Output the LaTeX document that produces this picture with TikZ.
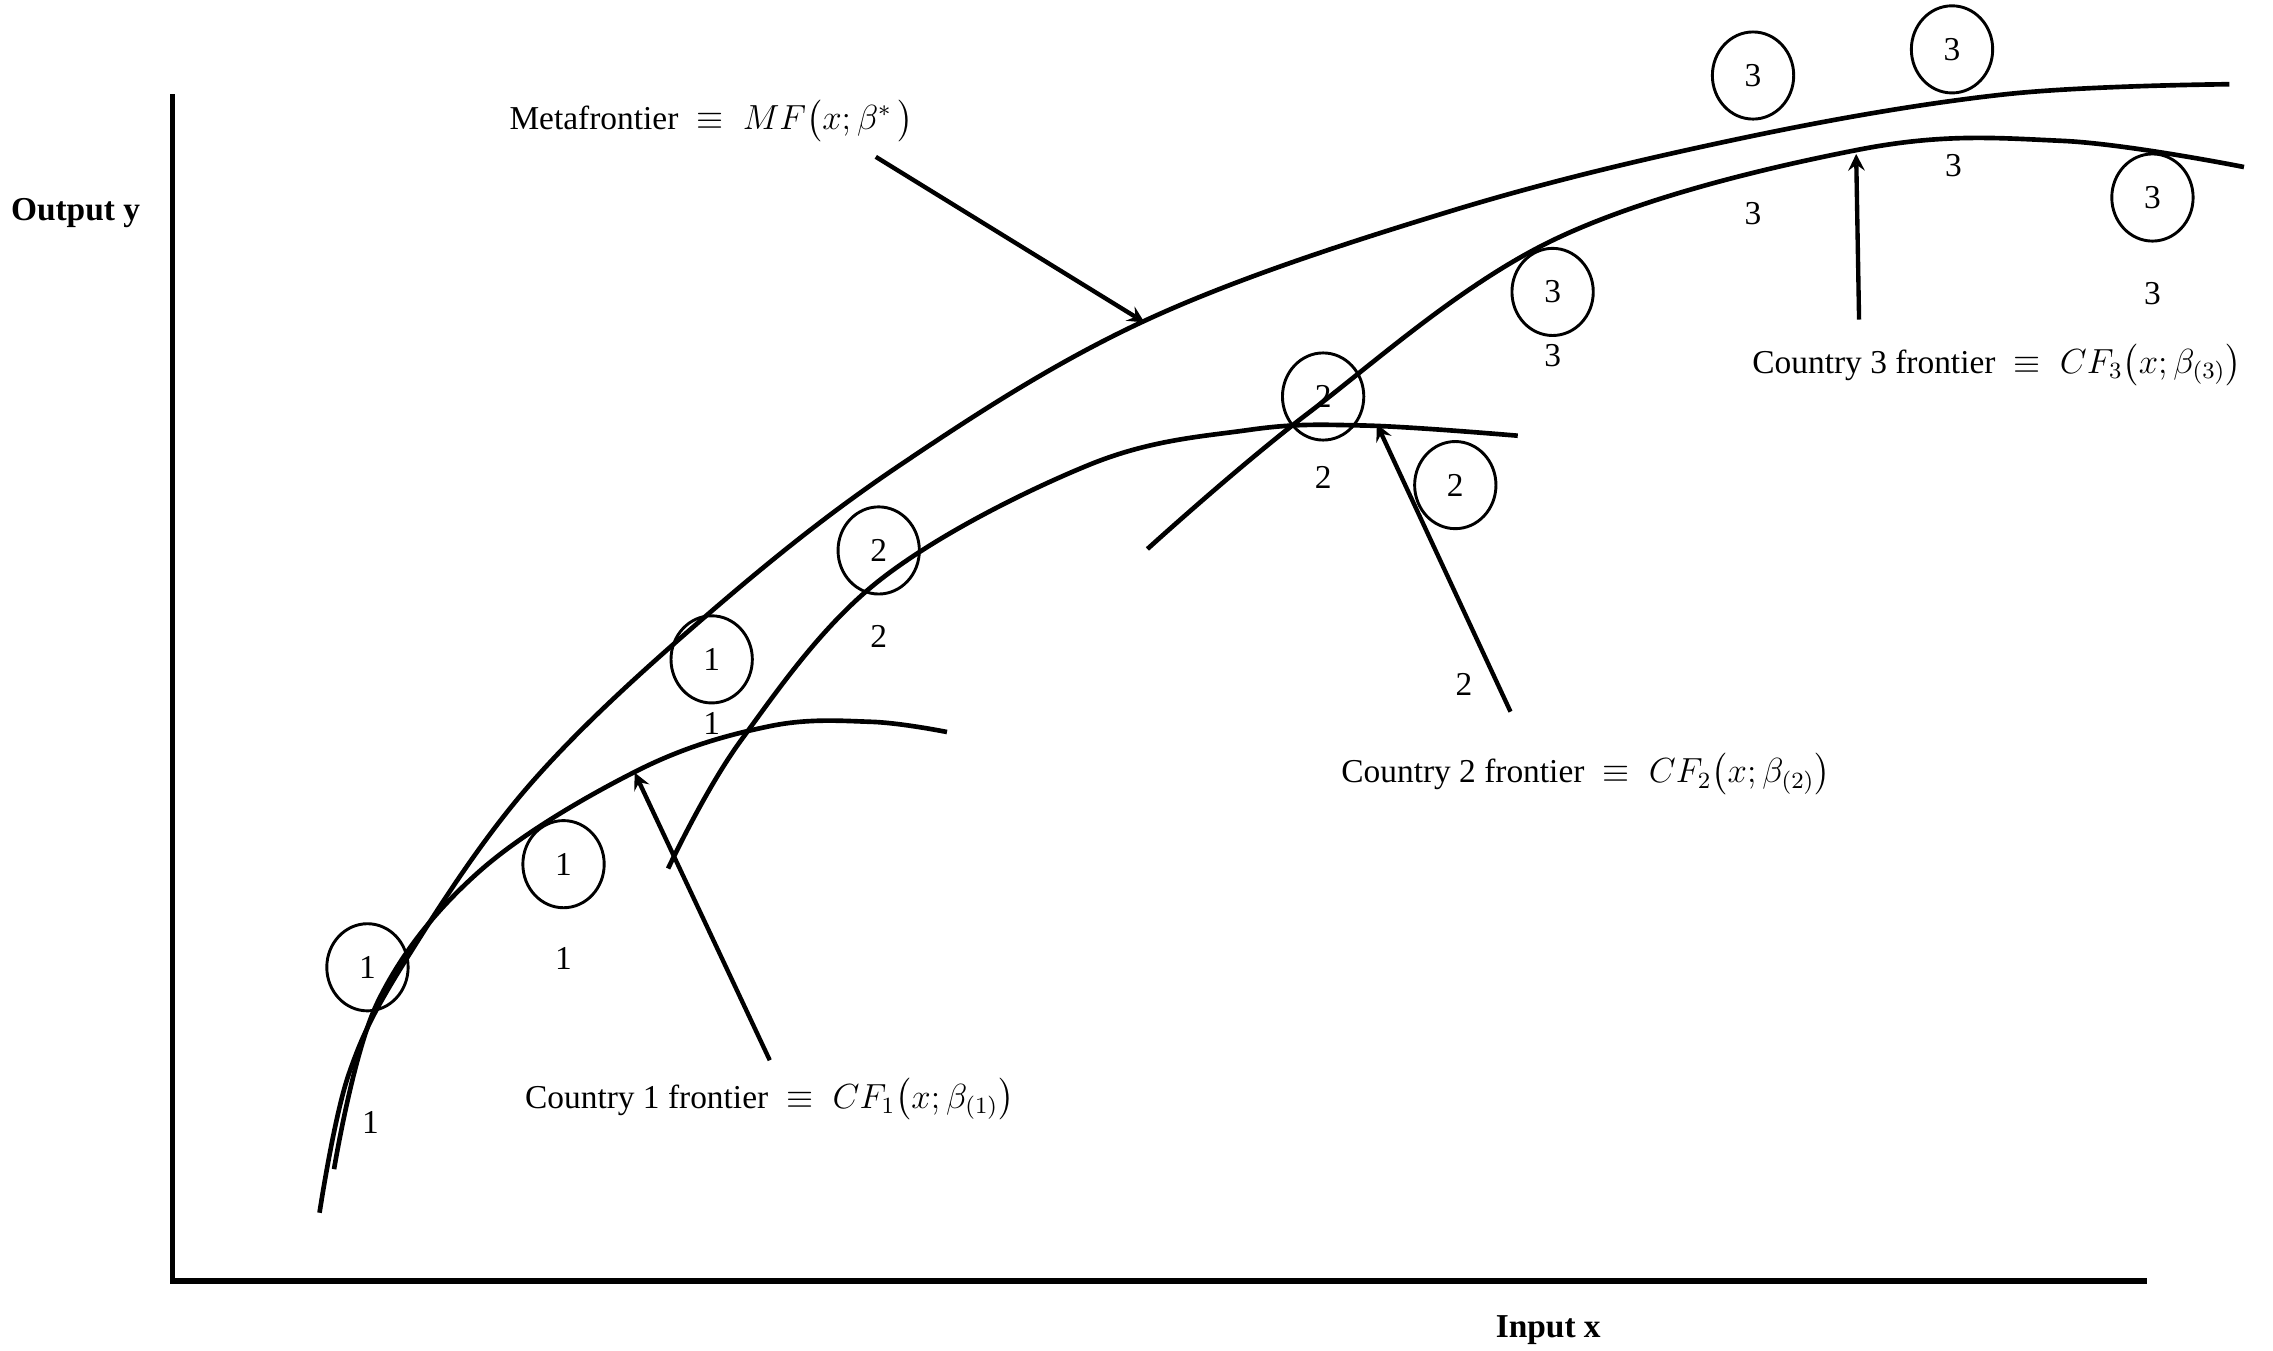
\documentclass[tikz,border=0pt]{standalone}
\usepackage{amsmath}
\usepackage{fontspec}
\setmainfont{Liberation Serif}
\usepackage{tikz}
\usetikzlibrary{shapes.geometric}

\tikzset{
  curve/.style={line width=1.6pt},
  pointer/.style={line width=1.5pt,-stealth},
  obs/.style={ellipse,draw,line width=1pt,minimum width=28pt,minimum height=30pt,inner sep=0pt},
  num/.style={inner sep=0pt},
  lab/.style={inner sep=0.75pt}
}

\begin{document}
\begin{tikzpicture}[x=0.5pt,y=-0.5pt,font=\fontsize{11.5}{13}\selectfont]
        \useasboundingbox (0,0) rectangle (1565,930);

        % axes
        \draw [line width=1.8pt] (119,65) -- (119,882) -- (1478,882);
        \node [lab,font=\fontsize{11.5}{13}\selectfont\bfseries] (ylab) at (52,147) {Output y};
        \node [lab,font=\fontsize{11.5}{13}\selectfont\bfseries] (xlab) at (1066,916) {Input x};

        % frontiers
        \draw [curve] plot [smooth,tension=0.6] coordinates {(220,835) (240,740) (280,660) (365,540) (485,425) (620,320) (790,220) (1000,145) (1200,95) (1380,65) (1535,58)};
        \draw [curve] plot [smooth,tension=0.6] coordinates {(230,805) (260,690) (330,600) (440,530) (530,500) (600,497) (652,504)};
        \draw [curve] plot [smooth,tension=0.6] coordinates {(460,598) (510,510) (605,400) (750,320) (860,296) (940,293) (1045,300)};
        \draw [curve] plot [smooth,tension=0.6] coordinates {(790,378) (900,285) (1070,165) (1280,103) (1420,97) (1545,115)};

        % circled observations
        \node [obs] (o1a) at (253,666) {1};
        \node [obs] (o1b) at (388,595) {1};
        \node [obs] (o1c) at (490,454) {1};
        \node [obs] (o2a) at (605,379) {2};
        \node [obs] (o2b) at (911,273) {2};
        \node [obs] (o2c) at (1002,334) {2};
        \node [obs] (o3a) at (1069,201) {3};
        \node [obs] (o3b) at (1207,52) {3};
        \node [obs] (o3c) at (1344,34) {3};
        \node [obs] (o3d) at (1482,136) {3};

        % plain observations
        \node [num] (p1a) at (255,773) {1};
        \node [num] (p1b) at (388,660) {1};
        \node [num] (p1c) at (490,498) {1};
        \node [num] (p2a) at (605,438) {2};
        \node [num] (p2b) at (911,329) {2};
        \node [num] (p2c) at (1008,471) {2};
        \node [num] (p3a) at (1069,245) {3};
        \node [num] (p3b) at (1207,147) {3};
        \node [num] (p3c) at (1345,114) {3};
        \node [num] (p3d) at (1482,202) {3};

        % labels
        \node [lab] (mf) at (490,83) {Metafrontier $\;\equiv\; MF\big(x;\beta^{*}\,\big)$};
        \node [lab] (cf1) at (530,757) {Country 1 frontier $\;\equiv\; CF_{1}\big(x;\beta_{(1)}\big)$};
        \node [lab] (cf2) at (1092,533) {Country 2 frontier $\;\equiv\; CF_{2}\big(x;\beta_{(2)}\big)$};
        \node [lab] (cf3) at (1375,251) {Country 3 frontier $\;\equiv\; CF_{3}\big(x;\beta_{(3)}\big)$};

        % pointers
        \coordinate (mfs) at (603,108);  \coordinate (mft) at (788,222);
        \coordinate (c1s) at (530,730);  \coordinate (c1t) at (437,532);
        \coordinate (c2s) at (1040,490); \coordinate (c2t) at (948,292);
        \coordinate (c3s) at (1280,220); \coordinate (c3t) at (1278,106);
        \draw [pointer] (mfs) -- (mft);
        \draw [pointer] (c1s) -- (c1t);
        \draw [pointer] (c2s) -- (c2t);
        \draw [pointer] (c3s) -- (c3t);
\end{tikzpicture}
\end{document}
